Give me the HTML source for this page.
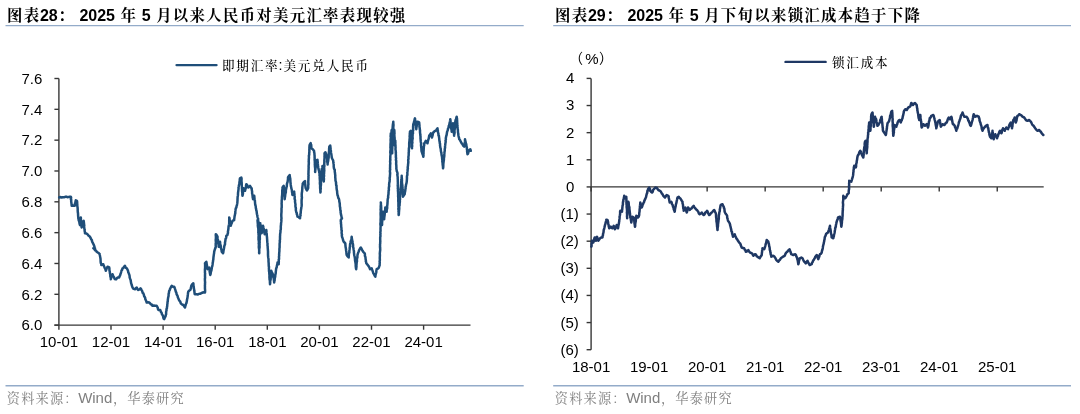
<!DOCTYPE html>
<html lang="zh-CN"><head><meta charset="utf-8"><title>图表28-29</title>
<style>
html,body{margin:0;padding:0;background:#fff;}
body{width:1080px;height:414px;position:relative;overflow:hidden;font-family:"Liberation Sans","Noto Serif CJK SC",sans-serif;}
.t{position:absolute;white-space:nowrap;line-height:1;}
.title{font-weight:bold;font-size:16px;color:#000;font-family:"Liberation Sans","Noto Serif CJK SC",serif;}
.title .c{font-size:15.4px;letter-spacing:1.3px;position:relative;left:0.6px;top:-0.2px;}
.title{word-spacing:0.55px;}
.src .c{font-size:13.2px;letter-spacing:1.2px;position:relative;left:0.6px;top:-0.3px;}
.src{font-size:15px;color:#7f7f7f;font-family:"Liberation Sans","Noto Serif CJK SC",serif;}
.lg{font-size:14.4px;color:#000;font-family:"Liberation Sans","Noto Serif CJK SC",serif;}
.lg .c{font-weight:500;font-size:12.6px;letter-spacing:1.8px;position:relative;left:0.9px;top:-0.4px;}
.unit{font-size:14px;color:#000;font-family:"Liberation Sans","Noto Sans CJK SC",sans-serif;}
</style></head><body>
<svg width="1080" height="414" viewBox="0 0 1080 414" style="position:absolute;left:0;top:0">
<g stroke="#93abc9" stroke-width="1.4" fill="none">
<path d="M5.5,25.6H523.7"/><path d="M553.2,25.6H1071"/><path d="M5.5,385.7H523.7"/><path d="M553.2,385.7H1071"/>
</g>
<g stroke="#363636" stroke-width="1.4" fill="none">
<path d="M58.9,78.5V325.14"/>
<path d="M54.4,325.14H470.5"/>
<path d="M54.4,78.50H58.9"/>
<path d="M54.4,109.33H58.9"/>
<path d="M54.4,140.16H58.9"/>
<path d="M54.4,170.99H58.9"/>
<path d="M54.4,201.82H58.9"/>
<path d="M54.4,232.65H58.9"/>
<path d="M54.4,263.48H58.9"/>
<path d="M54.4,294.31H58.9"/>
<path d="M54.4,325.14H58.9"/>
<path d="M58.90,325.14v4.6"/>
<path d="M111.00,325.14v4.6"/>
<path d="M163.10,325.14v4.6"/>
<path d="M215.20,325.14v4.6"/>
<path d="M267.30,325.14v4.6"/>
<path d="M319.40,325.14v4.6"/>
<path d="M371.50,325.14v4.6"/>
<path d="M423.60,325.14v4.6"/>
</g>
<g stroke="#363636" stroke-width="1.4" fill="none">
<path d="M591.1,78.4V349.70000000000005"/>
<path d="M591.1,186.92000000000002H1043.7"/>
<path d="M586.6,78.40H591.1"/>
<path d="M586.6,105.53H591.1"/>
<path d="M586.6,132.66H591.1"/>
<path d="M586.6,159.79H591.1"/>
<path d="M586.6,186.92H591.1"/>
<path d="M586.6,214.05H591.1"/>
<path d="M586.6,241.18H591.1"/>
<path d="M586.6,268.31H591.1"/>
<path d="M586.6,295.44H591.1"/>
<path d="M586.6,322.57H591.1"/>
<path d="M586.6,349.70H591.1"/>
<path d="M591.10,186.92000000000002v4.6"/>
<path d="M649.12,186.92000000000002v4.6"/>
<path d="M707.14,186.92000000000002v4.6"/>
<path d="M765.16,186.92000000000002v4.6"/>
<path d="M823.18,186.92000000000002v4.6"/>
<path d="M881.20,186.92000000000002v4.6"/>
<path d="M939.22,186.92000000000002v4.6"/>
<path d="M997.24,186.92000000000002v4.6"/>
</g>
<g font-family="'Liberation Sans', sans-serif" font-size="15" fill="#000">
<text transform="translate(42.3,83.8) scale(1,1.02)" text-anchor="end">7.6</text>
<text transform="translate(42.3,114.6) scale(1,1.02)" text-anchor="end">7.4</text>
<text transform="translate(42.3,145.4) scale(1,1.02)" text-anchor="end">7.2</text>
<text transform="translate(42.3,176.2) scale(1,1.02)" text-anchor="end">7.0</text>
<text transform="translate(42.3,207.1) scale(1,1.02)" text-anchor="end">6.8</text>
<text transform="translate(42.3,237.9) scale(1,1.02)" text-anchor="end">6.6</text>
<text transform="translate(42.3,268.7) scale(1,1.02)" text-anchor="end">6.4</text>
<text transform="translate(42.3,299.6) scale(1,1.02)" text-anchor="end">6.2</text>
<text transform="translate(42.3,330.4) scale(1,1.02)" text-anchor="end">6.0</text>
<text transform="translate(58.9,347.2) scale(1,1.02)" text-anchor="middle">10-01</text>
<text transform="translate(111.0,347.2) scale(1,1.02)" text-anchor="middle">12-01</text>
<text transform="translate(163.1,347.2) scale(1,1.02)" text-anchor="middle">14-01</text>
<text transform="translate(215.2,347.2) scale(1,1.02)" text-anchor="middle">16-01</text>
<text transform="translate(267.3,347.2) scale(1,1.02)" text-anchor="middle">18-01</text>
<text transform="translate(319.4,347.2) scale(1,1.02)" text-anchor="middle">20-01</text>
<text transform="translate(371.5,347.2) scale(1,1.02)" text-anchor="middle">22-01</text>
<text transform="translate(423.6,347.2) scale(1,1.02)" text-anchor="middle">24-01</text>
<text transform="translate(574.3,83.3) scale(1,1.02)" text-anchor="end">4</text>
<text transform="translate(574.3,110.4) scale(1,1.02)" text-anchor="end">3</text>
<text transform="translate(574.3,137.6) scale(1,1.02)" text-anchor="end">2</text>
<text transform="translate(574.3,164.7) scale(1,1.02)" text-anchor="end">1</text>
<text transform="translate(574.3,191.8) scale(1,1.02)" text-anchor="end">0</text>
<text transform="translate(578.8,219.0) scale(1,1.02)" text-anchor="end">(1)</text>
<text transform="translate(578.8,246.1) scale(1,1.02)" text-anchor="end">(2)</text>
<text transform="translate(578.8,273.2) scale(1,1.02)" text-anchor="end">(3)</text>
<text transform="translate(578.8,300.3) scale(1,1.02)" text-anchor="end">(4)</text>
<text transform="translate(578.8,327.5) scale(1,1.02)" text-anchor="end">(5)</text>
<text transform="translate(578.8,354.6) scale(1,1.02)" text-anchor="end">(6)</text>
<text transform="translate(591.1,371.5) scale(1,1.02)" text-anchor="middle">18-01</text>
<text transform="translate(649.1,371.5) scale(1,1.02)" text-anchor="middle">19-01</text>
<text transform="translate(707.1,371.5) scale(1,1.02)" text-anchor="middle">20-01</text>
<text transform="translate(765.2,371.5) scale(1,1.02)" text-anchor="middle">21-01</text>
<text transform="translate(823.2,371.5) scale(1,1.02)" text-anchor="middle">22-01</text>
<text transform="translate(881.2,371.5) scale(1,1.02)" text-anchor="middle">23-01</text>
<text transform="translate(939.2,371.5) scale(1,1.02)" text-anchor="middle">24-01</text>
<text transform="translate(997.2,371.5) scale(1,1.02)" text-anchor="middle">25-01</text>
</g>
<path d="M59.2,197.5 L60.4,197.0 L61.4,197.6 L62.7,197.2 L63.9,197.3 L65.0,197.0 L66.0,196.5 L67.3,197.2 L68.3,197.1 L69.7,196.7 L70.8,196.7 L71.1,197.5 L70.9,199.4 L71.2,199.6 L71.2,201.7 L71.3,202.1 L71.4,203.0 L71.6,204.6 L71.7,205.8 L73.1,205.5 L74.7,205.8 L74.9,204.4 L75.0,203.4 L75.4,202.9 L75.5,201.6 L75.8,200.3 L77.0,200.8 L77.2,202.5 L77.1,202.7 L77.3,204.6 L77.3,206.0 L77.5,207.0 L77.6,207.6 L77.7,209.4 L77.7,210.2 L77.7,210.8 L77.9,212.8 L78.0,213.3 L78.1,215.1 L78.1,215.9 L78.3,217.2 L78.3,218.3 L78.6,219.5 L78.7,220.5 L79.2,221.2 L79.5,223.3 L79.6,223.8 L80.0,225.0 L80.3,223.8 L80.3,222.8 L80.3,221.6 L80.7,220.0 L80.7,218.8 L80.8,217.5 L80.9,218.4 L80.9,220.2 L81.2,221.1 L81.3,222.4 L81.3,223.4 L81.4,224.2 L81.6,224.8 L81.5,226.5 L81.7,227.5 L82.0,226.4 L82.3,225.1 L82.7,224.2 L83.0,223.2 L83.3,221.4 L83.7,220.8 L83.8,221.6 L84.0,223.5 L84.1,224.6 L84.3,225.1 L84.1,226.7 L84.2,227.1 L84.4,229.1 L84.7,229.5 L84.6,230.9 L84.9,231.8 L85.0,233.3 L86.2,233.4 L87.5,234.2 L88.3,235.4 L89.2,236.1 L90.0,236.8 L90.8,238.3 L91.2,239.4 L91.9,240.1 L92.1,241.7 L92.8,242.9 L93.0,243.4 L93.7,244.6 L94.1,245.7 L94.6,247.4 L95.0,248.3 L93.3,248.3 L94.3,248.9 L95.0,250.3 L95.9,250.5 L96.7,251.7 L97.7,252.4 L98.7,253.1 L99.7,254.2 L99.8,254.9 L100.2,257.1 L100.3,257.6 L100.5,258.8 L100.6,260.5 L100.6,261.1 L100.8,263.0 L101.3,264.1 L101.3,265.0 L103.3,264.2 L103.6,265.4 L104.3,266.8 L104.6,267.7 L105.0,268.5 L105.5,269.4 L105.8,270.8 L106.2,269.7 L106.7,268.3 L107.1,267.5 L107.5,266.7 L109.2,267.5 L109.4,268.5 L109.4,270.3 L109.6,270.7 L109.9,272.7 L109.9,273.2 L110.3,274.7 L110.3,276.1 L110.6,277.3 L110.8,278.0 L110.8,279.2 L111.3,277.6 L111.6,276.2 L112.0,275.9 L112.5,274.2 L113.0,275.5 L113.5,276.5 L113.9,277.0 L114.5,278.6 L115.0,279.2 L116.2,279.3 L117.1,277.9 L118.0,277.5 L119.2,277.5 L119.7,275.9 L120.1,275.5 L120.5,273.9 L120.8,273.2 L121.2,271.8 L121.6,270.2 L122.1,269.9 L122.5,268.3 L123.3,268.0 L124.3,266.4 L125.0,265.8 L125.5,267.2 L126.1,268.0 L126.9,268.4 L127.3,269.3 L128.0,270.8 L128.3,272.4 L128.5,272.5 L128.9,273.8 L129.3,274.7 L129.6,276.1 L129.7,277.7 L130.0,278.3 L130.3,279.2 L130.7,280.2 L130.8,281.3 L131.2,283.4 L131.5,284.2 L131.7,285.0 L132.3,286.8 L132.5,287.5 L133.6,288.9 L135.0,289.2 L135.9,288.0 L136.7,287.5 L137.5,289.3 L138.3,290.0 L139.5,289.4 L140.5,288.3 L141.1,289.1 L141.6,290.1 L142.1,290.9 L142.7,292.9 L143.3,293.3 L143.8,294.6 L144.1,296.1 L144.5,296.6 L145.1,297.7 L145.4,299.5 L145.8,300.0 L146.3,301.4 L146.7,302.5 L147.8,302.2 L149.2,302.5 L149.9,303.1 L150.7,304.2 L151.7,304.5 L152.5,305.8 L153.8,305.6 L155.0,305.8 L156.7,305.8 L157.3,306.9 L157.7,307.5 L158.0,309.3 L158.7,310.0 L160.3,310.0 L160.8,311.7 L161.6,312.8 L161.9,314.1 L162.5,315.0 L162.9,315.6 L163.3,317.5 L163.6,318.6 L164.2,319.2 L164.4,318.6 L165.1,316.9 L165.5,316.4 L165.8,315.0 L166.1,314.2 L166.1,312.9 L166.2,311.4 L166.5,310.6 L166.5,308.9 L166.9,308.5 L167.0,306.9 L167.2,306.1 L167.3,304.4 L167.5,303.3 L167.5,301.9 L167.8,301.2 L167.8,300.0 L168.0,298.6 L168.2,297.2 L168.4,296.9 L168.6,295.3 L168.6,293.9 L168.9,293.1 L169.0,292.1 L169.2,290.8 L169.7,290.0 L170.2,288.5 L170.6,287.8 L171.2,286.7 L171.7,285.8 L173.0,286.7 L174.2,286.7 L174.6,287.7 L174.9,288.7 L175.5,290.4 L175.8,291.7 L176.3,292.4 L176.6,294.3 L177.2,295.2 L177.6,296.0 L177.9,297.5 L178.3,298.3 L178.9,299.7 L179.4,300.8 L179.8,301.0 L180.4,302.0 L180.8,303.3 L181.9,304.4 L183.3,305.0 L184.2,306.4 L185.0,307.5 L185.3,306.2 L185.7,304.8 L186.1,303.5 L186.4,303.2 L186.7,301.7 L187.0,300.3 L186.9,300.0 L187.3,298.6 L187.5,297.4 L187.7,296.1 L187.7,295.5 L187.9,294.2 L188.1,292.4 L188.3,291.7 L189.5,290.4 L190.3,290.0 L190.6,289.3 L191.0,287.6 L191.3,285.8 L191.7,285.0 L192.6,283.9 L193.3,283.3 L193.4,284.0 L193.5,285.7 L193.8,287.1 L193.8,288.5 L194.1,289.1 L194.2,290.3 L194.4,291.5 L194.6,293.3 L194.7,294.2 L196.7,294.2 L197.9,294.5 L199.2,293.7 L200.3,293.8 L201.4,293.1 L202.7,292.5 L203.9,292.3 L205.0,292.5 L205.1,291.4 L205.1,290.5 L205.0,288.7 L204.9,288.1 L205.0,286.9 L204.9,285.8 L205.0,284.6 L205.0,283.3 L205.1,282.7 L205.0,281.3 L204.9,280.0 L204.9,278.5 L205.1,278.0 L205.0,277.2 L205.0,276.2 L205.0,274.9 L205.1,273.7 L204.9,272.1 L205.0,271.3 L204.9,269.9 L205.0,268.8 L205.1,267.7 L205.1,266.8 L205.1,266.0 L205.1,264.4 L205.0,263.3 L206.3,261.7 L206.6,263.1 L206.7,264.3 L207.0,265.6 L207.2,267.2 L207.4,268.3 L207.5,269.2 L208.4,268.7 L209.2,267.5 L209.3,268.6 L209.7,270.2 L209.6,271.3 L209.9,272.9 L210.0,273.7 L210.3,275.0 L210.6,273.9 L210.8,272.7 L210.9,271.8 L211.4,270.6 L211.5,269.7 L211.8,268.5 L211.9,266.9 L212.2,266.5 L212.5,265.0 L212.7,263.4 L212.7,262.8 L213.0,261.7 L213.1,260.2 L213.3,259.7 L213.4,258.1 L213.5,256.9 L213.7,255.8 L213.7,255.4 L214.0,253.6 L214.1,253.0 L214.2,251.7 L214.7,249.9 L214.9,249.3 L215.5,247.8 L215.8,246.7 L215.7,245.8 L215.7,244.5 L215.8,243.8 L215.9,242.6 L215.8,241.1 L215.7,239.9 L215.9,238.3 L215.9,237.4 L215.9,236.2 L215.8,235.5 L215.8,234.2 L216.6,235.0 L217.5,236.7 L217.5,237.8 L217.6,238.5 L218.0,240.1 L217.9,240.8 L218.2,242.4 L218.3,243.8 L218.5,244.3 L218.6,245.1 L218.7,246.7 L219.0,245.0 L219.3,244.2 L219.6,242.6 L220.0,241.7 L220.2,243.1 L220.3,244.0 L220.5,245.2 L220.9,246.2 L220.8,247.8 L221.2,248.7 L221.3,249.2 L221.6,250.6 L221.7,251.7 L223.0,253.3 L223.4,252.0 L223.4,251.2 L223.6,250.2 L224.0,248.2 L224.2,246.9 L224.4,245.8 L224.7,245.0 L225.0,244.2 L225.0,242.2 L225.2,241.9 L225.4,240.2 L225.6,238.8 L226.0,238.3 L226.2,237.2 L226.3,235.8 L227.5,235.0 L227.6,234.0 L228.0,232.8 L227.9,231.7 L228.3,229.8 L228.3,229.3 L228.5,228.1 L228.5,226.9 L228.8,225.5 L229.1,224.2 L229.2,223.3 L229.2,222.1 L229.2,221.2 L229.2,220.1 L229.3,218.4 L229.2,217.5 L229.5,218.3 L229.7,220.3 L229.8,220.6 L230.1,222.6 L230.5,223.3 L230.6,224.1 L230.8,225.8 L231.1,224.5 L231.7,223.2 L231.9,222.5 L232.5,220.8 L234.2,220.0 L234.2,218.9 L234.4,218.0 L234.6,216.0 L234.8,215.6 L235.1,213.8 L235.3,213.3 L235.3,211.6 L235.5,210.4 L235.6,209.3 L235.8,208.3 L236.4,207.5 L236.5,206.2 L237.0,205.0 L237.1,204.0 L237.3,203.2 L237.4,201.9 L237.5,200.5 L237.5,199.6 L237.6,197.7 L237.6,197.0 L237.9,195.7 L238.0,194.2 L238.0,193.7 L238.1,192.2 L238.3,191.1 L238.4,190.1 L238.6,188.6 L238.5,187.6 L238.7,186.7 L239.0,185.0 L239.2,184.3 L239.4,183.6 L239.6,182.3 L239.7,181.2 L239.8,179.1 L240.0,178.3 L241.3,177.5 L241.6,178.7 L241.5,180.1 L241.5,181.2 L241.7,182.6 L241.7,183.1 L241.8,184.9 L241.7,185.2 L241.9,186.9 L241.9,188.3 L242.1,188.9 L242.0,189.6 L242.1,191.3 L242.2,192.0 L242.4,193.7 L242.3,194.2 L242.5,195.8 L242.7,195.0 L243.0,193.0 L243.0,191.6 L243.3,191.2 L243.6,189.3 L243.7,188.3 L244.4,189.7 L245.0,190.8 L245.2,190.2 L245.5,188.8 L245.8,188.0 L246.0,186.6 L246.0,185.8 L246.3,184.2 L247.1,185.0 L247.7,186.7 L248.3,187.5 L249.1,186.7 L250.0,185.8 L250.9,187.5 L251.7,188.3 L251.7,189.6 L252.0,191.1 L252.1,191.6 L252.1,193.4 L252.3,193.9 L252.6,196.0 L252.7,197.3 L252.9,198.0 L253.0,199.2 L253.4,198.1 L253.9,197.3 L254.2,195.8 L254.4,196.9 L254.4,197.9 L254.6,199.3 L254.9,200.5 L254.9,201.2 L255.1,203.3 L255.1,203.9 L255.3,205.0 L255.7,206.1 L255.8,207.8 L256.1,208.9 L256.2,210.0 L256.5,210.8 L256.7,211.9 L256.8,213.1 L257.0,214.3 L257.3,215.3 L257.5,216.7 L257.6,217.3 L258.1,218.7 L258.1,220.3 L258.4,221.9 L258.7,222.5 L258.2,221.3 L257.5,220.0 L257.6,221.3 L257.7,222.5 L257.8,223.6 L257.9,225.0 L257.8,225.1 L258.0,227.2 L258.1,227.3 L258.4,228.9 L258.3,230.0 L258.4,231.0 L258.3,232.6 L258.6,233.5 L258.5,234.5 L258.7,235.4 L258.5,237.2 L258.6,237.8 L258.5,239.1 L258.6,239.7 L258.8,241.1 L258.9,242.6 L258.7,243.5 L258.9,244.3 L258.9,245.3 L258.8,247.1 L258.9,248.2 L259.1,248.8 L259.1,249.7 L259.2,251.0 L259.1,252.8 L259.2,253.3 L259.3,252.2 L259.2,251.2 L259.3,250.3 L259.2,248.9 L259.4,248.3 L259.6,247.1 L259.5,245.3 L259.6,244.4 L259.5,243.7 L259.7,242.0 L259.5,241.0 L259.7,239.7 L259.9,239.0 L259.8,237.8 L259.8,236.3 L259.9,235.3 L259.8,234.2 L259.9,233.2 L260.0,232.0 L260.1,230.8 L260.1,230.2 L260.1,228.4 L260.2,228.0 L260.3,227.0 L260.2,225.3 L260.2,224.3 L260.3,223.3 L260.4,224.0 L260.6,225.1 L260.8,226.9 L260.8,228.0 L261.1,228.6 L261.2,230.4 L261.2,230.6 L261.6,232.0 L261.7,233.3 L261.8,231.6 L262.3,231.0 L262.4,229.4 L262.4,228.4 L262.7,226.9 L263.0,225.8 L263.3,226.7 L263.3,228.4 L263.8,228.9 L263.9,230.2 L264.1,231.5 L264.3,232.5 L264.7,234.2 L265.2,233.0 L265.4,232.2 L265.8,231.2 L266.3,230.0 L266.4,231.1 L266.5,232.7 L266.7,233.7 L266.8,234.8 L266.8,236.0 L267.0,236.9 L267.0,237.8 L267.1,238.9 L267.2,240.4 L267.2,241.2 L267.3,242.2 L267.5,243.3 L267.5,244.2 L267.5,245.7 L267.7,246.5 L267.7,247.9 L267.8,248.6 L267.9,250.3 L268.0,251.4 L268.0,252.7 L268.0,253.1 L268.0,254.9 L268.1,256.3 L268.2,257.4 L268.4,258.5 L268.5,259.1 L268.5,260.1 L268.5,261.4 L268.6,262.3 L268.7,263.6 L268.7,265.0 L268.8,266.5 L269.0,266.7 L268.9,268.8 L269.0,269.4 L269.0,271.1 L269.2,272.1 L269.3,272.8 L269.3,273.9 L269.4,274.7 L269.5,275.8 L269.4,276.9 L269.5,278.1 L269.6,279.7 L269.9,280.5 L269.9,282.4 L270.0,283.4 L270.0,284.2 L270.2,282.8 L270.2,281.7 L270.2,280.7 L270.6,280.0 L270.7,278.4 L270.7,277.3 L270.9,276.9 L270.9,274.8 L270.9,274.0 L271.1,273.4 L271.3,272.2 L271.3,270.8 L271.6,271.9 L272.3,273.1 L272.6,273.6 L273.0,275.0 L273.1,276.2 L273.5,277.7 L273.7,278.2 L273.9,279.9 L274.0,280.9 L274.2,282.5 L274.3,280.9 L274.6,280.6 L274.7,279.2 L274.9,277.7 L275.2,276.8 L275.3,274.9 L275.5,274.1 L275.7,273.3 L275.8,271.7 L276.0,270.1 L276.1,268.9 L276.4,267.8 L276.7,267.4 L276.8,266.3 L277.2,264.4 L277.4,264.0 L277.5,262.5 L278.7,264.2 L278.7,262.5 L278.8,262.1 L278.8,261.3 L278.7,259.6 L279.1,259.0 L279.0,258.0 L279.0,256.3 L279.2,255.7 L279.1,254.8 L279.2,253.3 L279.3,252.0 L279.4,251.4 L279.4,250.1 L279.4,248.9 L279.6,247.4 L279.6,246.2 L279.6,245.3 L279.6,244.5 L279.6,243.8 L279.9,241.6 L279.7,240.9 L279.9,239.9 L280.0,239.4 L280.0,237.6 L280.0,236.7 L280.1,235.5 L280.1,234.3 L280.3,233.1 L280.5,231.7 L280.4,230.7 L280.7,229.8 L280.8,228.9 L280.8,227.7 L280.8,225.9 L281.0,225.0 L281.0,223.9 L281.2,222.4 L281.3,221.7 L281.4,220.2 L281.3,219.5 L281.5,218.3 L281.4,217.3 L281.3,216.0 L281.3,215.1 L281.3,214.2 L281.4,213.1 L281.5,211.9 L281.5,210.2 L281.5,209.0 L281.5,208.2 L281.7,207.4 L281.7,206.0 L281.7,204.7 L281.6,203.7 L281.7,202.3 L281.7,201.7 L281.7,200.2 L281.9,199.1 L281.9,198.2 L281.9,197.2 L282.1,195.3 L282.2,194.4 L282.2,193.9 L282.3,191.8 L282.2,191.2 L282.4,189.5 L282.6,188.3 L282.5,187.5 L283.7,185.8 L283.8,187.2 L284.0,187.9 L284.0,188.8 L283.9,190.0 L284.0,191.0 L284.1,192.8 L284.3,193.6 L284.4,194.5 L284.5,196.0 L284.6,196.9 L284.7,198.6 L284.7,199.2 L284.8,197.9 L285.1,196.3 L285.2,195.1 L285.3,194.3 L285.7,192.8 L285.9,192.0 L285.8,191.2 L286.0,189.7 L286.3,188.3 L286.5,187.1 L286.8,186.5 L286.9,184.5 L287.0,183.7 L287.4,182.3 L287.6,181.9 L287.9,179.7 L288.0,179.0 L288.0,177.5 L288.3,176.7 L289.7,175.0 L289.7,176.6 L289.9,176.7 L290.2,178.9 L290.3,179.3 L290.4,180.9 L290.4,181.8 L290.6,183.2 L290.7,184.4 L290.8,185.0 L291.0,186.6 L291.2,187.1 L291.3,188.1 L291.7,189.5 L291.9,190.3 L292.0,192.0 L292.3,192.7 L292.3,194.2 L292.5,195.0 L293.1,193.5 L293.7,192.2 L294.2,191.7 L294.2,192.6 L294.4,194.0 L294.5,195.2 L294.7,196.4 L294.7,197.3 L294.6,198.9 L294.8,199.3 L295.1,200.5 L295.0,201.6 L295.2,202.9 L295.5,204.6 L295.4,205.8 L295.4,206.1 L295.7,207.9 L295.9,208.6 L295.8,210.0 L296.1,211.2 L296.3,212.4 L296.8,213.0 L296.8,214.2 L297.3,215.3 L297.5,216.7 L298.7,217.2 L300.0,218.3 L300.1,217.0 L300.2,216.4 L300.6,215.4 L300.4,214.2 L300.8,212.6 L300.7,212.1 L300.9,210.5 L301.0,209.7 L301.3,208.1 L301.3,207.6 L301.6,206.2 L301.7,205.0 L301.7,204.3 L301.6,203.3 L301.6,201.2 L301.6,200.7 L301.7,199.2 L301.9,197.8 L301.9,197.0 L301.7,196.4 L301.8,195.0 L301.7,194.3 L301.8,193.3 L302.1,191.3 L302.2,189.9 L302.3,188.9 L302.3,187.7 L302.4,186.8 L302.5,185.9 L302.7,184.7 L302.7,183.7 L303.9,182.0 L305.0,181.1 L305.0,181.9 L305.1,183.6 L305.3,185.0 L305.3,185.6 L305.4,186.2 L305.6,187.9 L306.3,189.3 L306.9,190.4 L307.5,189.6 L308.2,187.9 L308.2,187.0 L308.2,185.1 L308.4,184.7 L308.4,183.8 L308.3,182.3 L308.3,181.1 L308.4,180.1 L308.4,179.2 L308.5,177.6 L308.4,176.7 L308.6,175.4 L308.4,174.3 L308.5,172.9 L308.5,171.4 L308.5,171.2 L308.6,169.6 L308.6,168.5 L308.7,167.8 L308.6,166.3 L308.7,164.9 L308.8,163.7 L308.8,162.1 L308.7,161.7 L308.8,160.3 L308.8,158.6 L309.0,158.1 L308.9,157.2 L308.9,155.2 L309.2,155.0 L309.2,152.9 L309.3,152.6 L309.4,150.7 L309.3,150.0 L309.4,148.9 L309.4,147.5 L309.5,146.0 L309.6,145.1 L310.1,144.1 L310.7,143.0 L310.8,144.5 L311.2,144.9 L311.3,146.4 L311.3,147.5 L311.6,148.5 L312.8,149.3 L314.1,151.0 L314.1,152.2 L314.4,153.2 L314.5,155.1 L314.6,155.5 L314.6,157.1 L314.7,158.6 L314.6,159.9 L314.8,160.7 L314.8,162.4 L314.9,162.9 L314.8,164.3 L314.9,165.4 L314.9,165.9 L315.0,167.1 L315.2,168.7 L315.2,170.1 L315.1,171.5 L315.2,172.1 L315.2,170.8 L315.4,169.3 L315.4,168.6 L315.7,167.8 L315.6,165.7 L315.9,164.5 L315.8,164.2 L316.0,162.1 L316.0,161.3 L316.2,160.3 L317.5,159.9 L317.5,160.5 L317.7,161.9 L317.8,163.4 L317.9,164.2 L318.0,166.0 L318.2,166.8 L318.3,167.9 L318.5,168.9 L318.7,169.7 L319.2,171.6 L319.2,172.3 L319.6,173.8 L319.5,175.3 L319.8,176.3 L319.8,176.7 L319.7,177.8 L319.8,179.1 L319.9,180.5 L320.0,181.8 L319.9,182.2 L319.9,184.0 L320.2,185.3 L320.1,185.6 L320.1,186.7 L320.1,187.8 L320.2,188.9 L320.3,190.1 L320.4,191.8 L320.4,192.5 L320.6,191.5 L320.5,190.2 L320.7,188.9 L320.8,188.5 L320.6,187.1 L320.9,185.4 L320.8,185.2 L321.0,184.1 L320.9,182.8 L321.0,181.4 L321.1,180.2 L321.0,178.7 L321.2,177.8 L321.3,177.4 L321.3,175.5 L321.3,175.0 L321.5,173.3 L321.6,172.3 L321.7,171.1 L321.6,170.2 L321.7,169.3 L322.1,168.2 L322.3,167.5 L322.5,165.9 L322.5,167.2 L322.7,167.8 L322.8,169.8 L322.8,170.0 L323.0,172.0 L323.2,173.0 L323.2,174.1 L323.2,175.1 L323.5,175.6 L323.4,176.6 L323.7,178.4 L323.5,179.0 L323.7,180.9 L323.8,181.6 L323.8,180.4 L324.0,178.9 L323.8,178.5 L323.8,176.8 L324.1,176.0 L323.9,174.6 L324.0,173.7 L324.1,173.2 L324.1,172.1 L324.3,170.5 L324.2,169.6 L324.2,168.4 L324.1,167.2 L324.4,165.9 L324.2,164.7 L324.3,163.6 L324.3,162.4 L324.5,161.9 L324.3,161.1 L324.4,159.8 L324.5,158.3 L324.6,157.8 L324.5,156.8 L324.6,155.0 L324.5,153.6 L324.7,153.0 L325.5,152.3 L325.8,153.3 L326.0,154.2 L326.5,155.6 L326.8,156.9 L327.1,158.2 L327.2,159.5 L327.2,160.8 L327.2,161.9 L327.5,162.8 L327.6,164.5 L327.6,163.7 L327.9,161.8 L328.2,160.8 L328.3,159.5 L328.5,158.6 L328.7,157.4 L328.7,156.0 L328.7,154.6 L328.7,154.3 L328.9,152.5 L329.0,151.6 L329.1,150.5 L329.1,149.0 L329.2,147.9 L329.3,146.8 L330.2,145.5 L330.4,146.8 L330.5,147.8 L330.7,149.5 L330.8,150.0 L330.9,151.2 L331.0,152.7 L331.2,153.5 L331.5,155.3 L331.7,157.0 L331.8,157.8 L332.4,159.1 L333.1,160.3 L333.2,161.0 L333.4,162.8 L333.5,163.5 L333.7,164.6 L333.7,166.7 L333.9,167.7 L334.0,168.7 L334.8,170.0 L334.7,170.9 L334.9,172.6 L335.0,173.1 L335.2,175.0 L335.3,175.8 L335.2,176.9 L335.3,177.7 L335.4,178.6 L335.5,180.7 L335.8,181.6 L336.1,183.0 L336.0,183.2 L336.2,185.3 L336.5,185.5 L336.5,187.0 L336.6,188.3 L336.7,189.3 L336.9,190.4 L337.1,191.2 L337.2,193.2 L337.3,193.8 L337.6,195.4 L337.9,195.9 L338.3,198.0 L338.8,198.6 L339.2,200.0 L339.3,201.4 L339.5,202.2 L339.7,203.3 L339.8,204.0 L339.8,205.1 L339.9,206.6 L340.2,207.7 L340.2,208.4 L340.4,210.5 L340.7,211.0 L340.6,212.5 L340.8,213.3 L341.0,214.7 L341.4,216.1 L341.6,217.4 L342.0,218.3 L340.8,220.0 L340.8,221.6 L341.0,222.6 L340.9,223.8 L341.1,224.0 L341.2,226.0 L341.2,226.7 L341.4,227.8 L341.5,229.3 L341.4,230.0 L341.8,230.7 L341.6,232.3 L341.7,233.7 L342.0,234.4 L341.8,235.1 L342.0,236.7 L342.3,237.4 L342.8,239.0 L343.1,240.2 L343.7,241.7 L344.5,242.5 L345.3,243.3 L345.4,244.8 L345.5,245.8 L345.6,247.1 L345.8,248.0 L346.0,249.1 L346.1,250.4 L346.4,251.9 L346.4,252.7 L346.5,254.1 L346.7,255.0 L347.7,256.4 L348.7,257.5 L348.8,256.3 L348.8,255.3 L348.9,253.8 L349.1,253.1 L349.4,252.1 L349.3,251.0 L349.5,250.0 L349.7,248.3 L349.7,247.4 L350.0,246.5 L350.0,245.0 L350.2,243.6 L350.5,242.5 L350.6,241.6 L351.1,240.1 L351.2,239.6 L351.5,238.2 L351.7,236.7 L351.7,237.6 L352.0,239.2 L352.2,240.5 L352.5,241.4 L352.6,242.2 L352.8,243.5 L353.1,245.3 L353.0,246.6 L353.3,247.5 L353.5,248.6 L353.7,250.0 L354.0,251.5 L353.9,251.8 L354.1,253.9 L354.2,255.0 L354.4,255.8 L354.6,256.4 L354.9,258.3 L355.0,259.2 L355.0,260.1 L355.2,261.2 L355.4,262.2 L355.6,263.6 L355.7,264.3 L355.7,265.9 L355.8,266.8 L356.0,268.5 L356.2,269.2 L356.3,267.5 L356.5,266.8 L356.4,265.9 L356.5,264.9 L356.6,263.5 L356.7,262.4 L357.0,261.2 L356.9,260.0 L357.0,258.4 L357.4,257.6 L357.4,256.2 L357.5,255.0 L357.8,253.9 L358.3,252.4 L358.7,251.5 L359.2,250.0 L360.0,248.6 L360.8,247.5 L361.3,248.3 L361.8,249.4 L362.5,250.8 L363.2,251.8 L364.0,252.6 L364.7,253.3 L364.9,254.0 L364.9,255.9 L365.3,256.6 L365.5,257.7 L365.6,259.1 L365.9,260.4 L365.8,261.2 L366.2,262.2 L366.3,263.3 L367.4,264.6 L368.3,265.8 L369.0,266.8 L369.5,267.8 L370.0,269.2 L371.7,268.3 L372.0,269.5 L372.4,270.3 L372.9,271.8 L373.3,273.3 L373.9,273.9 L374.8,275.9 L375.3,276.7 L375.5,275.3 L375.7,274.3 L376.1,273.0 L376.3,272.2 L376.4,270.5 L376.7,269.2 L378.3,268.3 L378.8,267.7 L379.3,266.1 L379.7,265.0 L379.6,263.8 L379.8,262.8 L379.6,261.5 L379.9,260.0 L379.8,258.9 L379.8,257.7 L379.8,257.5 L379.9,255.7 L379.9,254.9 L379.8,253.5 L379.9,252.6 L380.0,251.5 L380.2,250.0 L380.2,248.9 L380.1,248.0 L380.0,246.6 L380.1,246.0 L380.0,244.7 L380.2,243.5 L380.2,242.6 L380.3,241.1 L380.2,240.2 L380.2,239.1 L380.2,237.3 L380.3,236.7 L380.5,236.1 L380.3,234.8 L380.5,233.7 L380.3,232.3 L380.6,230.7 L380.5,230.6 L380.5,228.9 L380.5,228.3 L380.6,226.3 L380.6,225.7 L380.4,224.7 L380.4,223.4 L380.7,222.1 L380.6,221.4 L380.6,219.7 L380.6,219.1 L380.7,218.1 L380.7,216.8 L380.7,215.8 L380.6,214.8 L380.6,213.0 L380.7,211.9 L380.8,211.1 L380.6,209.8 L380.6,209.5 L380.8,207.8 L380.7,207.0 L380.8,205.4 L380.9,204.4 L380.9,203.3 L380.8,202.5 L380.9,203.1 L380.9,204.5 L381.1,205.8 L381.1,206.7 L381.2,207.6 L381.2,209.6 L381.2,210.8 L381.4,211.3 L381.4,213.2 L381.5,213.5 L381.6,214.7 L381.4,215.8 L381.6,216.9 L381.7,218.8 L381.8,218.9 L381.9,220.9 L381.8,221.1 L381.9,223.1 L382.1,224.4 L382.0,225.0 L382.1,224.2 L382.0,222.6 L382.2,222.0 L382.2,221.0 L382.5,219.8 L382.6,218.8 L382.6,217.2 L382.6,215.7 L382.7,215.1 L382.9,213.7 L383.0,212.9 L383.0,211.7 L383.2,212.8 L383.5,214.1 L383.7,215.6 L383.7,216.3 L384.0,217.7 L384.2,219.2 L384.2,218.2 L384.4,216.6 L384.6,215.4 L384.7,214.1 L384.8,213.0 L385.0,212.5 L384.8,211.4 L385.2,210.0 L385.2,209.0 L385.3,207.5 L385.7,209.2 L386.2,210.6 L386.7,211.7 L386.6,211.1 L386.8,209.5 L387.1,208.6 L387.2,207.2 L387.1,205.8 L387.3,205.3 L387.5,203.4 L387.4,203.2 L387.6,201.8 L387.6,200.1 L387.8,198.9 L388.0,198.1 L388.2,197.4 L388.1,196.5 L388.3,195.0 L388.5,194.0 L388.5,192.5 L388.6,192.2 L388.6,190.8 L388.9,190.0 L388.8,188.1 L389.0,186.7 L389.2,186.5 L389.1,184.6 L389.2,183.5 L389.3,182.5 L389.6,181.7 L389.6,180.9 L389.8,179.2 L389.6,178.0 L389.9,176.9 L389.9,176.3 L390.0,175.0 L390.1,173.6 L390.1,172.8 L389.9,171.6 L390.0,170.0 L390.2,169.4 L390.0,168.3 L390.1,167.6 L390.1,166.0 L390.1,164.6 L390.3,163.9 L390.2,162.4 L390.1,161.3 L390.4,159.8 L390.2,159.8 L390.3,157.6 L390.3,156.8 L390.3,156.3 L390.5,154.4 L390.5,153.7 L390.3,152.7 L390.3,151.9 L390.5,149.9 L390.7,149.5 L390.4,147.4 L390.5,146.3 L390.5,146.2 L390.5,144.6 L390.6,142.9 L390.7,142.1 L390.7,141.6 L390.6,140.1 L390.7,138.6 L390.9,137.7 L390.6,136.4 L390.7,135.1 L390.8,134.1 L390.8,133.3 L391.2,132.6 L391.5,131.2 L391.7,130.0 L391.6,131.5 L391.6,132.4 L391.7,133.2 L391.6,134.2 L391.9,135.2 L391.9,137.2 L391.9,137.3 L391.9,138.5 L391.8,140.0 L391.9,140.7 L392.0,141.7 L391.8,143.8 L392.1,144.8 L392.0,145.0 L391.9,146.6 L392.1,148.1 L392.2,149.2 L392.1,150.5 L392.0,151.5 L392.1,152.0 L392.2,153.3 L392.2,152.2 L392.2,151.5 L392.2,150.4 L392.2,149.4 L392.3,148.3 L392.3,146.5 L392.4,145.1 L392.4,144.6 L392.3,142.9 L392.2,142.3 L392.5,141.4 L392.5,140.1 L392.4,139.4 L392.6,137.8 L392.4,136.9 L392.6,135.7 L392.4,134.8 L392.6,133.0 L392.6,132.5 L392.6,131.1 L392.5,130.5 L392.5,128.7 L392.7,127.3 L392.7,126.7 L392.8,125.6 L392.9,124.4 L393.2,122.8 L393.3,121.7 L393.3,123.1 L393.4,124.2 L393.5,125.2 L393.4,126.2 L393.3,127.7 L393.3,127.8 L393.5,129.2 L393.5,130.7 L393.6,131.1 L393.6,132.5 L393.6,133.7 L393.4,135.2 L393.5,136.1 L393.5,137.8 L393.5,138.2 L393.6,138.9 L393.5,140.7 L393.5,142.0 L393.7,143.3 L393.6,144.4 L393.7,145.0 L393.8,144.2 L393.7,142.9 L393.8,141.6 L394.0,140.2 L394.0,138.8 L393.9,138.4 L394.1,136.8 L394.1,135.8 L394.0,134.6 L394.3,134.0 L394.2,132.1 L394.4,131.4 L394.3,130.0 L394.3,131.2 L394.4,132.1 L394.5,133.8 L394.3,134.1 L394.4,135.7 L394.5,137.1 L394.7,138.3 L394.5,138.6 L394.7,140.0 L395.3,140.8 L395.3,142.3 L395.4,142.6 L395.3,143.8 L395.5,145.3 L395.4,146.6 L395.6,146.9 L395.5,148.8 L395.5,149.7 L395.8,151.2 L395.7,152.3 L395.9,152.5 L395.8,154.0 L395.9,155.1 L395.9,156.5 L395.8,157.1 L396.1,157.9 L395.9,160.0 L396.2,160.7 L396.2,161.8 L396.2,162.4 L396.1,164.3 L396.3,164.7 L396.3,165.8 L396.4,167.7 L396.3,168.3 L396.6,169.9 L396.8,171.2 L397.2,172.0 L397.5,173.3 L397.5,174.2 L397.4,175.5 L397.5,175.9 L397.7,177.1 L397.7,178.5 L397.8,179.6 L397.8,181.3 L397.8,181.4 L397.9,183.3 L397.8,184.2 L397.7,184.8 L397.8,185.8 L397.9,187.7 L397.8,188.6 L398.1,190.1 L397.9,190.5 L398.0,191.4 L398.1,192.6 L398.1,193.8 L398.2,194.6 L398.1,196.4 L398.3,197.6 L398.3,198.9 L398.3,199.5 L398.2,200.9 L398.4,202.2 L398.4,203.1 L398.4,203.5 L398.4,205.0 L398.4,206.3 L398.6,207.5 L398.3,208.9 L398.6,209.9 L398.6,210.7 L398.5,211.5 L398.7,212.3 L398.6,214.2 L398.7,215.0 L398.9,214.0 L398.9,212.4 L399.0,211.9 L399.0,211.1 L399.2,209.6 L399.3,208.2 L399.2,207.1 L399.3,205.7 L399.6,205.5 L399.6,204.3 L399.7,202.8 L399.9,201.8 L399.8,200.4 L400.0,199.7 L400.0,198.3 L400.0,197.5 L400.1,196.2 L400.2,194.7 L400.2,193.3 L400.5,192.9 L400.6,191.1 L400.7,190.4 L400.5,188.8 L400.6,188.6 L400.9,186.6 L400.9,185.5 L400.9,185.2 L401.2,184.1 L401.2,183.1 L401.2,181.8 L401.4,180.4 L401.3,179.6 L401.5,178.4 L401.7,177.0 L401.7,175.8 L401.7,177.2 L401.9,178.5 L401.8,179.6 L402.0,179.9 L401.9,181.2 L402.0,183.2 L402.1,183.7 L402.4,185.6 L402.3,186.6 L402.5,187.0 L402.5,188.3 L402.6,190.0 L402.8,191.3 L402.8,191.9 L402.8,192.8 L402.8,194.5 L403.0,195.4 L403.0,196.7 L404.0,195.1 L404.7,194.2 L404.8,192.6 L405.0,192.0 L405.2,191.1 L405.4,189.2 L405.6,188.4 L405.6,186.9 L405.9,186.0 L406.0,184.7 L406.2,184.3 L406.6,182.6 L406.7,181.7 L406.8,181.1 L406.9,179.1 L407.0,177.9 L406.9,177.0 L407.0,176.0 L407.3,175.2 L407.4,174.1 L407.3,172.4 L407.4,172.0 L407.6,170.8 L407.6,169.1 L407.9,168.8 L407.7,167.3 L408.0,165.6 L408.0,165.0 L408.1,164.2 L408.3,162.5 L408.3,161.2 L408.2,160.8 L408.2,159.8 L408.5,158.8 L408.4,157.0 L408.5,156.4 L408.7,155.1 L408.7,154.4 L408.7,152.5 L408.9,151.2 L408.8,150.9 L408.9,149.4 L408.9,148.1 L409.2,147.3 L409.2,145.8 L409.2,145.3 L409.2,144.3 L409.2,142.9 L409.4,141.3 L409.5,140.9 L409.5,139.9 L409.7,138.2 L409.8,137.7 L409.6,136.3 L409.8,134.8 L409.8,133.4 L409.9,133.1 L410.0,131.7 L410.8,130.8 L410.8,132.2 L410.9,132.8 L411.0,134.1 L411.3,135.3 L411.2,136.7 L411.2,137.6 L411.3,139.3 L411.4,139.8 L411.7,141.5 L411.6,142.9 L411.8,143.3 L411.8,144.3 L411.8,146.5 L411.9,147.2 L412.0,148.3 L411.9,147.1 L412.2,146.2 L412.0,144.5 L412.2,143.4 L412.4,142.5 L412.2,141.4 L412.4,139.7 L412.6,138.8 L412.7,138.2 L412.5,137.0 L412.6,136.0 L412.6,134.2 L413.0,133.3 L412.9,132.4 L412.9,130.9 L413.2,130.4 L413.1,128.6 L413.1,127.6 L413.1,126.5 L413.2,125.6 L413.3,124.2 L413.7,123.2 L414.1,121.5 L414.3,121.2 L414.7,119.0 L415.0,118.3 L415.1,119.7 L415.2,121.0 L415.3,121.7 L415.7,123.3 L415.7,124.6 L415.8,125.3 L416.0,126.4 L416.0,127.6 L416.3,129.2 L416.4,127.8 L416.6,126.7 L416.8,125.3 L417.2,123.8 L417.4,122.4 L417.5,121.7 L419.2,122.5 L419.3,123.8 L419.4,124.8 L419.5,125.6 L419.4,126.5 L419.7,128.1 L419.9,129.8 L420.0,130.0 L420.0,131.5 L420.0,132.4 L420.2,133.8 L420.3,135.0 L420.5,136.5 L420.5,136.9 L420.5,138.7 L420.6,139.2 L420.7,141.1 L420.8,141.8 L421.0,143.0 L421.2,143.6 L421.0,145.0 L421.1,145.8 L421.2,147.0 L421.4,148.5 L421.4,149.3 L421.5,150.7 L421.7,151.7 L422.2,153.2 L422.6,154.4 L423.0,155.2 L423.3,156.7 L423.5,155.5 L423.4,154.6 L423.6,153.1 L423.5,152.2 L423.6,151.2 L423.7,149.5 L423.7,149.2 L423.8,148.2 L423.8,146.5 L424.1,145.8 L424.2,144.8 L424.2,143.3 L425.0,142.5 L425.8,140.8 L426.7,141.9 L427.5,143.3 L427.7,142.1 L428.0,140.8 L428.2,140.0 L428.7,138.6 L428.9,137.5 L429.2,135.8 L429.9,134.8 L430.8,133.3 L431.1,135.1 L431.5,136.2 L432.0,137.5 L432.4,136.0 L432.7,134.9 L432.9,133.4 L433.3,132.5 L434.3,131.5 L435.3,130.8 L436.2,130.3 L436.9,129.0 L437.5,128.3 L437.6,129.5 L437.9,130.6 L437.9,132.0 L438.3,133.3 L438.4,133.3 L438.5,135.4 L438.9,135.9 L439.0,136.8 L439.2,138.3 L439.3,139.6 L439.4,141.0 L439.7,141.5 L439.7,143.1 L440.1,144.0 L440.0,145.0 L440.2,146.5 L440.4,147.9 L440.7,148.5 L440.8,150.0 L441.0,151.6 L441.4,152.7 L441.4,153.6 L441.5,154.3 L441.7,155.6 L442.0,156.7 L442.1,157.9 L442.2,159.1 L442.4,160.2 L442.3,161.4 L442.6,162.9 L442.6,163.5 L442.7,164.9 L442.9,166.2 L443.0,166.7 L443.0,168.3 L443.2,167.7 L443.3,166.0 L443.3,164.8 L443.4,163.3 L443.5,162.5 L443.7,161.0 L443.9,159.9 L443.9,158.5 L444.0,157.8 L444.2,156.7 L444.3,155.9 L444.3,153.9 L444.4,153.4 L444.5,151.9 L444.8,150.4 L444.7,149.6 L444.9,148.2 L445.1,147.8 L445.0,146.8 L445.2,145.2 L445.3,144.1 L445.4,143.4 L445.7,141.7 L445.5,140.6 L445.9,139.6 L445.8,138.3 L446.0,137.2 L446.2,136.2 L446.6,135.0 L446.8,133.7 L447.1,131.7 L447.5,130.8 L447.9,129.7 L448.0,128.5 L448.6,127.8 L448.7,126.0 L449.2,125.0 L449.5,123.7 L449.5,123.2 L450.0,121.2 L450.2,120.2 L450.3,119.2 L450.5,120.8 L450.6,121.8 L450.6,122.9 L450.7,124.2 L451.0,124.4 L451.1,126.5 L451.1,127.3 L451.2,128.3 L451.4,129.4 L451.6,130.1 L451.7,131.7 L451.9,130.8 L452.2,128.9 L452.2,128.6 L452.3,127.4 L452.7,125.6 L452.8,124.1 L453.0,123.3 L453.0,123.9 L453.3,125.4 L453.2,126.9 L453.5,128.2 L453.4,128.8 L453.8,130.4 L453.7,131.0 L454.0,132.2 L453.8,133.1 L454.1,134.3 L454.2,135.8 L454.1,135.2 L454.4,133.8 L454.6,132.7 L454.5,131.3 L454.5,130.4 L454.7,129.3 L455.0,127.3 L454.9,126.4 L455.0,125.0 L455.1,123.8 L455.2,122.8 L455.3,121.7 L455.6,119.9 L456.1,119.5 L456.2,118.4 L456.7,116.7 L456.9,118.3 L457.0,118.8 L457.1,120.6 L457.2,121.3 L457.0,121.9 L457.3,123.1 L457.2,125.1 L457.5,125.3 L457.4,127.3 L457.6,127.5 L457.6,128.9 L457.9,129.8 L457.9,130.9 L458.0,132.5 L458.3,133.8 L458.3,134.5 L458.5,135.8 L458.7,136.9 L459.1,138.0 L459.2,139.2 L459.9,139.9 L460.8,141.7 L461.7,143.3 L462.5,144.2 L463.2,145.7 L464.2,146.7 L464.2,146.0 L464.4,144.5 L464.7,143.2 L464.9,141.9 L465.0,140.1 L465.0,139.2 L465.2,140.5 L465.5,141.4 L465.9,143.4 L466.3,144.2 L466.3,145.1 L466.6,146.7 L466.8,147.2 L466.9,148.7 L467.0,150.0 L467.2,150.7 L467.1,151.6 L467.4,153.5 L467.5,154.2 L468.0,153.6 L468.3,152.6 L468.8,150.6 L469.2,150.0 L470.3,149.2 L470.8,150.8" fill="none" stroke="#1f4e79" stroke-width="2.5" stroke-linejoin="round" stroke-linecap="round"/>
<path d="M591.3,246.7 L591.6,246.0 L591.5,243.8 L591.8,243.5 L591.8,242.2 L592.0,240.8 L593.3,242.5 L593.7,241.4 L593.9,240.1 L594.3,238.7 L594.7,237.5 L595.2,238.9 L595.5,240.2 L595.8,240.8 L596.2,239.4 L596.5,237.5 L597.0,236.7 L597.4,238.0 L598.0,239.3 L598.3,240.8 L599.2,239.6 L600.0,238.3 L601.1,237.6 L602.5,237.5 L602.6,236.1 L603.0,235.0 L603.0,233.9 L603.4,232.9 L603.6,231.5 L603.7,230.0 L604.1,229.0 L604.5,227.3 L604.6,226.8 L605.0,225.0 L605.4,223.9 L605.7,222.3 L606.1,221.0 L606.3,219.7 L607.5,220.0 L607.8,221.2 L608.1,222.2 L608.2,224.0 L608.6,224.8 L608.7,226.2 L608.9,226.8 L609.2,228.3 L609.9,227.7 L610.8,226.7 L611.6,227.9 L612.5,228.3 L613.0,227.5 L613.7,225.8 L614.2,227.4 L614.6,228.1 L615.0,229.2 L615.4,228.3 L615.7,226.9 L616.4,226.1 L616.7,225.0 L617.0,226.2 L617.6,227.6 L618.0,228.3 L618.1,227.7 L618.3,226.4 L618.5,225.2 L618.9,223.6 L619.0,222.3 L619.2,221.7 L619.2,220.9 L619.5,218.9 L619.6,218.0 L619.6,216.3 L619.9,215.3 L620.1,214.0 L620.1,212.7 L620.1,211.5 L620.3,210.8 L622.0,211.7 L622.0,210.8 L622.3,209.0 L622.3,208.0 L622.4,207.5 L622.6,205.3 L622.9,204.8 L622.9,203.1 L623.0,201.8 L623.3,201.5 L623.3,200.0 L623.7,199.1 L624.0,197.6 L624.2,195.8 L624.7,197.1 L625.3,198.3 L626.3,196.7 L626.3,198.0 L626.4,198.5 L626.4,200.5 L626.5,201.3 L626.4,202.4 L626.5,204.0 L626.6,204.8 L626.7,205.3 L626.6,206.5 L626.7,207.6 L626.9,208.8 L627.0,210.4 L627.1,212.0 L626.9,212.3 L627.0,213.5 L627.1,215.0 L627.0,216.3 L627.1,217.1 L627.2,218.3 L627.1,216.7 L627.2,216.0 L627.3,215.2 L627.4,213.4 L627.5,212.5 L627.6,211.7 L627.8,210.3 L627.9,209.1 L627.9,208.8 L627.9,207.2 L627.9,206.2 L628.1,204.9 L628.1,203.5 L628.2,203.1 L628.3,201.7 L628.7,202.9 L628.7,204.3 L628.9,206.0 L629.2,206.7 L629.4,207.3 L629.4,208.6 L629.6,210.7 L629.7,211.0 L629.8,212.6 L630.0,213.6 L630.0,214.6 L630.3,216.2 L630.3,217.5 L630.7,218.3 L630.9,219.7 L631.1,221.1 L631.3,222.5 L631.5,221.6 L631.7,219.8 L632.1,218.5 L632.4,218.0 L632.5,216.7 L633.8,217.5 L633.8,218.9 L634.2,220.0 L634.3,221.2 L634.4,221.9 L634.5,223.6 L634.7,224.4 L634.9,226.0 L635.0,226.7 L635.2,225.9 L635.2,224.0 L635.4,223.0 L635.6,221.8 L635.8,221.1 L635.8,219.8 L636.2,218.1 L636.2,216.6 L636.3,215.8 L637.0,216.2 L638.0,217.5 L638.7,216.7 L639.2,215.0 L639.2,214.0 L639.3,212.5 L639.5,211.8 L639.6,210.4 L639.7,208.9 L639.9,208.7 L639.9,206.6 L639.9,206.1 L640.1,205.2 L640.2,203.9 L640.3,202.5 L640.7,204.3 L640.9,205.1 L641.2,206.2 L641.7,207.5 L642.2,206.5 L642.6,204.9 L643.0,204.2 L643.4,203.1 L644.0,202.3 L644.2,201.3 L644.7,200.0 L645.0,199.5 L645.5,198.2 L646.0,197.2 L646.3,195.8 L646.6,194.4 L646.9,193.5 L647.2,193.0 L647.4,190.9 L647.8,190.5 L648.0,189.2 L649.2,187.5 L649.7,188.8 L650.1,189.2 L650.3,190.8 L651.2,191.9 L652.0,192.5 L652.7,191.8 L653.2,189.8 L653.7,189.2 L654.4,188.6 L655.3,187.5 L657.0,188.0 L657.7,189.3 L658.3,190.0 L660.0,190.8 L660.9,191.7 L661.7,193.3 L662.5,194.2 L663.3,195.8 L664.1,196.6 L665.0,197.5 L665.8,196.3 L666.7,195.0 L668.3,195.8 L668.7,196.6 L668.6,197.6 L669.1,199.1 L669.3,200.5 L669.5,201.4 L669.7,202.5 L671.3,201.7 L671.7,202.7 L672.0,204.2 L672.7,205.0 L673.0,206.7 L673.5,207.6 L673.8,209.5 L674.3,210.6 L674.7,211.7 L674.8,211.0 L675.0,209.1 L675.2,208.3 L675.5,206.7 L675.6,206.6 L675.8,205.0 L676.1,203.8 L676.5,202.4 L676.7,201.0 L677.0,200.0 L677.1,199.2 L677.5,197.5 L678.7,196.7 L679.4,197.9 L680.3,198.3 L681.1,199.6 L681.7,200.7 L682.5,201.7 L682.5,203.2 L682.8,204.1 L683.0,205.1 L683.1,206.6 L683.2,207.2 L683.3,208.5 L683.7,209.4 L683.7,210.8 L684.3,209.3 L684.7,208.5 L685.3,207.5 L685.5,208.6 L685.9,210.0 L686.3,211.2 L686.7,212.5 L687.1,211.7 L687.4,209.9 L687.6,209.2 L688.0,207.5 L688.8,208.3 L689.7,210.0 L690.7,208.8 L691.7,208.3 L692.6,206.9 L693.7,205.8 L694.4,207.4 L695.3,208.3 L696.1,209.5 L696.9,209.9 L697.5,210.8 L698.3,211.8 L698.9,213.5 L699.7,214.2 L700.8,213.5 L701.7,212.5 L702.7,214.0 L703.7,215.0 L704.6,214.2 L705.3,212.5 L706.3,211.9 L707.0,210.8 L707.6,211.6 L708.0,213.1 L708.5,213.8 L709.2,215.0 L710.0,214.7 L710.8,213.3 L711.8,212.5 L712.5,211.7 L713.5,210.5 L714.2,210.0 L714.6,210.7 L715.2,212.1 L715.8,213.3 L716.1,214.9 L716.0,215.8 L716.1,216.7 L716.2,218.1 L716.4,218.6 L716.4,219.6 L716.5,221.6 L716.6,221.8 L716.8,223.1 L716.9,224.2 L717.0,225.3 L717.1,226.8 L717.4,227.6 L717.3,228.4 L717.5,230.0 L717.6,229.3 L717.6,228.1 L717.9,226.7 L718.0,225.4 L718.0,224.6 L718.1,223.9 L718.3,222.2 L718.5,220.9 L718.5,220.1 L718.8,218.9 L718.8,218.3 L718.8,216.6 L718.8,215.6 L719.2,214.0 L719.2,213.3 L719.5,211.7 L719.8,211.1 L719.8,209.3 L720.0,208.9 L720.3,206.9 L720.5,205.8 L720.8,205.0 L722.5,204.2 L723.0,205.6 L723.7,206.7 L724.0,208.4 L724.3,208.5 L724.5,209.9 L724.6,211.4 L725.0,212.5 L725.7,213.8 L726.7,215.0 L727.1,215.8 L727.2,217.7 L727.6,218.7 L727.7,219.3 L728.0,220.8 L728.7,221.7 L729.7,223.3 L729.9,224.0 L730.1,225.1 L730.5,226.5 L730.9,228.2 L731.1,229.1 L731.3,230.0 L731.5,231.6 L732.0,231.8 L732.1,233.5 L732.4,234.3 L732.7,235.5 L733.0,236.7 L733.9,235.3 L734.7,234.2 L735.1,235.6 L735.4,236.2 L736.1,237.6 L736.3,238.3 L737.2,239.3 L738.0,240.8 L739.0,242.3 L740.0,243.3 L740.4,243.9 L740.7,245.1 L741.3,246.5 L741.7,247.5 L743.0,248.1 L744.2,248.3 L744.7,249.7 L745.4,250.1 L745.8,251.7 L747.2,251.2 L748.3,250.0 L749.0,251.4 L750.0,252.5 L752.0,253.3 L752.5,254.2 L753.3,255.8 L754.2,255.1 L755.0,254.2 L756.0,254.7 L756.8,256.4 L757.5,256.7 L758.5,257.5 L759.7,258.3 L760.4,256.9 L760.9,256.3 L761.7,255.0 L761.8,254.3 L761.9,252.7 L762.1,251.9 L762.1,250.7 L762.3,249.7 L762.5,248.3 L764.2,249.2 L764.5,248.5 L765.0,246.8 L765.3,245.8 L765.6,244.5 L765.8,244.0 L766.2,242.6 L766.4,241.5 L766.7,240.0 L767.5,240.8 L768.3,241.7 L768.5,242.8 L768.8,243.5 L769.0,244.7 L769.2,246.2 L769.5,246.9 L769.7,248.3 L769.8,249.9 L770.2,250.8 L770.4,252.3 L770.5,252.9 L770.8,254.7 L771.2,254.9 L771.3,256.7 L773.3,255.8 L774.1,256.3 L775.0,257.5 L775.6,258.4 L776.3,260.0 L777.0,260.8 L778.3,261.7 L779.1,260.5 L779.9,259.8 L780.8,258.3 L781.8,257.6 L783.0,256.7 L784.7,255.8 L785.3,254.3 L785.6,253.5 L786.3,252.5 L787.3,251.8 L788.0,250.8 L788.7,250.2 L789.5,249.2 L790.1,250.8 L790.4,251.3 L791.0,253.4 L791.3,254.2 L793.3,255.0 L795.3,254.2 L795.9,255.0 L796.5,256.8 L797.0,257.5 L797.2,258.8 L797.4,259.4 L797.7,260.4 L797.9,261.5 L798.1,262.9 L798.3,264.2 L798.6,263.5 L798.8,261.8 L799.1,260.4 L799.5,259.5 L799.7,258.3 L801.3,257.5 L802.5,258.3 L803.3,260.0 L804.0,261.3 L805.0,262.4 L805.8,263.3 L806.5,262.1 L807.5,260.8 L808.0,261.9 L808.6,263.2 L809.2,264.2 L809.7,265.0 L811.7,264.2 L812.0,262.8 L812.6,262.1 L813.1,260.6 L813.7,260.0 L814.3,258.9 L814.9,257.9 L815.3,256.7 L816.7,255.0 L817.1,255.6 L817.6,256.6 L817.8,258.1 L818.3,259.2 L818.8,257.7 L819.3,256.6 L819.5,255.3 L820.0,254.2 L820.9,253.8 L821.7,252.5 L822.0,250.8 L822.4,249.8 L822.6,248.9 L822.8,247.9 L822.9,246.8 L823.3,245.0 L823.7,243.6 L823.9,242.1 L824.1,242.0 L824.2,240.6 L824.6,239.1 L824.7,237.8 L825.0,236.7 L825.5,235.9 L826.1,233.9 L826.7,233.3 L827.6,233.0 L828.3,231.7 L828.6,230.7 L828.9,229.8 L829.4,227.9 L829.6,227.4 L830.0,225.8 L830.1,227.4 L830.2,228.3 L830.4,229.0 L830.6,230.0 L830.8,231.7 L830.9,233.0 L831.2,234.0 L831.5,235.1 L831.5,235.9 L831.7,237.5 L833.3,238.3 L833.5,237.1 L833.8,236.5 L834.0,234.8 L834.4,233.5 L834.6,232.7 L834.8,230.8 L835.0,230.0 L835.2,228.4 L835.5,227.1 L835.8,227.0 L835.9,225.3 L836.2,224.0 L836.4,222.8 L836.7,221.7 L837.2,220.0 L837.7,219.4 L838.0,217.5 L840.0,216.7 L840.0,217.9 L840.4,218.7 L840.5,220.5 L840.6,221.2 L840.8,221.9 L841.0,223.2 L841.1,224.4 L841.2,225.6 L841.3,226.7 L841.6,225.5 L841.6,224.7 L841.8,223.3 L841.9,222.5 L841.9,221.6 L842.1,220.1 L842.4,218.8 L842.3,218.3 L842.5,216.7 L842.6,215.6 L842.6,214.6 L842.6,213.5 L842.7,211.7 L842.7,211.0 L842.9,209.7 L842.8,208.9 L842.9,207.9 L843.0,206.1 L843.1,205.4 L843.1,204.1 L842.9,202.7 L843.0,201.6 L843.1,200.9 L843.3,199.4 L843.3,197.8 L843.2,196.8 L843.3,195.8 L844.1,197.2 L845.0,198.3 L845.8,197.5 L846.7,195.8 L847.5,194.1 L848.7,193.3 L848.7,191.6 L848.7,191.2 L848.9,189.6 L849.1,189.0 L849.1,187.8 L849.0,186.3 L849.2,185.0 L849.1,183.7 L849.3,182.0 L849.2,180.8 L850.3,181.3 L851.3,181.7 L851.6,180.5 L852.0,179.3 L852.4,177.9 L852.6,177.5 L853.0,175.8 L853.2,174.4 L853.2,173.9 L853.3,172.6 L853.5,171.8 L853.5,170.3 L853.8,169.1 L853.8,167.9 L854.1,166.6 L854.2,165.8 L855.1,167.1 L855.8,167.5 L856.1,166.4 L856.1,164.7 L856.2,164.1 L856.7,162.2 L856.7,161.1 L857.0,160.2 L857.2,158.5 L857.3,157.7 L857.5,156.7 L857.8,155.6 L858.2,155.1 L858.9,153.9 L859.2,152.5 L860.3,150.8 L860.9,151.9 L861.1,152.6 L861.7,154.2 L862.1,155.3 L862.8,156.7 L863.3,157.5 L863.4,156.6 L863.7,154.6 L863.6,153.6 L863.8,152.4 L863.8,151.6 L864.0,149.9 L864.0,149.5 L864.3,147.8 L864.4,147.0 L864.6,145.9 L864.7,144.1 L864.7,143.3 L865.0,141.6 L865.5,140.8 L865.7,141.5 L865.8,143.1 L866.0,144.8 L865.9,145.5 L866.1,147.0 L866.2,147.3 L866.1,148.3 L866.4,150.1 L866.5,151.5 L866.6,151.8 L866.7,153.3 L866.8,152.7 L866.8,151.0 L867.0,149.4 L866.9,149.3 L867.2,148.0 L867.3,146.3 L867.2,144.9 L867.4,144.2 L867.3,143.1 L867.5,142.3 L867.5,141.0 L867.5,139.4 L867.7,138.1 L867.9,137.2 L867.9,136.5 L868.0,135.0 L868.2,134.3 L868.1,132.6 L868.4,132.1 L868.5,130.0 L868.5,129.2 L868.6,128.5 L868.8,126.8 L868.7,126.4 L869.0,125.1 L869.1,123.3 L869.2,122.5 L869.4,123.8 L869.4,124.9 L869.6,126.1 L869.8,127.2 L869.9,128.0 L870.1,129.5 L870.3,130.8 L870.5,129.8 L870.5,128.3 L870.5,127.3 L870.8,125.9 L870.8,125.7 L870.7,123.7 L870.8,122.5 L870.8,121.7 L871.0,120.6 L871.0,119.9 L871.2,117.8 L871.1,117.1 L871.2,115.8 L871.3,115.0 L871.8,113.5 L872.5,112.5 L872.6,113.4 L872.7,115.2 L872.8,116.0 L873.0,117.6 L873.0,118.9 L873.1,119.9 L873.3,120.9 L873.3,122.0 L873.3,122.7 L873.7,124.8 L873.6,125.4 L873.8,126.7 L874.0,125.9 L874.1,124.4 L874.1,123.0 L874.4,122.6 L874.5,121.6 L874.7,120.5 L874.9,118.9 L874.7,117.4 L875.0,116.7 L875.3,118.1 L876.0,118.9 L876.3,120.0 L876.5,121.4 L876.7,122.6 L877.2,123.6 L877.2,124.7 L877.5,125.8 L878.4,125.1 L879.2,123.3 L879.7,122.5 L880.0,121.6 L880.3,120.0 L880.8,119.2 L881.2,117.5 L881.7,116.7 L881.6,117.6 L881.9,119.2 L881.9,120.7 L882.0,121.7 L882.2,122.4 L882.4,124.3 L882.4,124.9 L882.5,125.6 L882.7,127.8 L882.9,128.7 L882.8,129.2 L883.0,130.8 L883.8,132.0 L884.7,133.3 L885.8,135.0 L886.1,133.7 L886.2,132.3 L886.4,131.3 L886.6,130.0 L886.8,129.1 L886.9,128.5 L887.0,126.3 L887.2,126.2 L887.3,124.8 L887.5,123.3 L888.7,121.7 L889.2,120.8 L889.6,119.0 L890.0,117.5 L890.1,115.9 L890.6,114.8 L890.9,114.4 L890.9,113.3 L891.3,111.7 L892.2,110.8 L892.1,111.4 L892.3,112.6 L892.4,114.7 L892.4,114.9 L892.5,116.7 L892.4,117.6 L892.7,119.2 L892.6,120.2 L892.6,120.5 L892.6,121.9 L892.8,123.0 L892.7,124.7 L892.7,126.0 L892.9,127.2 L892.9,128.0 L893.1,129.2 L893.0,129.8 L893.0,131.6 L893.2,132.0 L893.1,133.2 L893.2,134.5 L893.3,135.8 L893.5,135.0 L893.6,133.6 L893.9,132.5 L893.8,131.6 L894.0,129.6 L894.3,128.6 L894.3,127.5 L894.6,126.7 L894.7,125.0 L895.5,126.4 L896.3,126.7 L896.6,125.6 L897.2,124.2 L897.6,122.6 L898.0,121.7 L898.8,120.4 L899.7,120.0 L900.2,121.4 L900.8,122.5 L901.2,121.1 L901.7,120.3 L902.0,119.3 L902.5,118.3 L902.7,116.9 L903.1,115.4 L903.3,114.5 L903.7,112.8 L903.8,111.6 L904.2,110.8 L905.3,109.2 L906.7,110.0 L907.6,108.5 L908.3,107.5 L910.0,106.7 L910.5,105.9 L911.0,103.9 L911.3,103.0 L912.0,103.5 L913.0,105.0 L914.0,103.6 L915.0,103.0 L915.9,104.1 L916.7,105.0 L916.9,106.7 L917.0,107.6 L917.4,109.0 L917.3,110.1 L917.6,111.2 L917.7,112.2 L918.0,113.3 L918.3,114.7 L918.3,115.8 L918.5,116.9 L918.6,118.0 L918.9,118.3 L919.2,120.0 L919.6,118.9 L919.8,117.5 L920.1,116.3 L920.3,115.0 L920.5,116.7 L920.4,117.1 L920.6,118.8 L920.9,119.8 L920.8,120.3 L921.2,121.7 L921.3,123.3 L921.3,123.8 L921.4,125.6 L921.5,126.5 L921.7,127.5 L922.2,126.8 L922.8,125.3 L923.3,124.2 L924.3,124.8 L925.0,125.8 L925.8,125.0 L926.7,124.2 L927.2,125.5 L927.7,126.6 L928.0,127.5 L928.2,126.7 L928.5,125.4 L928.7,123.6 L928.8,122.9 L929.0,121.3 L929.4,120.9 L929.5,120.0 L929.7,118.3 L930.6,117.5 L931.3,115.8 L933.3,115.0 L933.7,115.8 L934.1,117.7 L934.4,118.3 L934.6,119.5 L935.0,120.8 L935.3,122.3 L935.5,122.9 L935.6,124.1 L936.0,126.2 L936.2,126.8 L936.3,128.3 L936.6,126.9 L936.8,125.9 L937.2,124.9 L937.3,124.3 L937.6,122.5 L938.0,121.7 L938.8,120.5 L939.7,120.0 L940.0,121.5 L940.1,121.9 L940.2,123.4 L940.6,125.0 L940.6,125.1 L940.8,126.7 L941.7,125.5 L942.5,124.2 L944.2,125.0 L945.1,124.2 L945.8,122.9 L946.7,122.5 L947.1,121.6 L947.7,119.6 L948.2,118.4 L948.7,117.5 L950.0,119.2 L950.6,117.5 L951.3,116.7 L951.7,117.7 L951.9,119.3 L952.1,120.6 L952.5,122.2 L952.6,123.1 L953.0,124.2 L953.9,124.7 L954.7,125.8 L955.1,127.6 L955.6,127.8 L955.9,129.3 L956.3,130.8 L956.6,129.2 L957.2,128.6 L957.6,127.2 L958.0,125.8 L958.3,124.8 L958.7,123.3 L958.9,122.1 L959.3,121.5 L959.7,120.0 L960.1,119.0 L960.6,117.5 L960.8,116.1 L961.3,115.0 L962.0,114.1 L962.5,112.5 L963.0,113.8 L963.3,114.5 L963.9,115.8 L964.2,116.7 L966.3,116.7 L967.2,117.7 L968.0,119.2 L968.3,120.7 L968.7,120.7 L969.2,122.4 L969.7,123.3 L970.1,125.1 L970.8,125.8 L971.1,125.1 L971.4,124.0 L971.9,121.9 L972.3,120.9 L972.5,120.0 L972.7,119.2 L973.0,117.7 L973.1,116.8 L973.4,115.4 L973.7,114.2 L974.5,115.5 L975.3,116.7 L977.0,115.8 L978.7,116.7 L979.0,117.8 L979.5,119.1 L979.5,120.4 L980.0,121.7 L980.5,122.9 L980.8,124.6 L981.3,125.8 L981.6,127.0 L981.8,128.7 L982.3,130.0 L982.5,130.8 L983.1,129.2 L983.7,128.6 L984.2,127.5 L984.9,127.1 L985.8,125.8 L987.5,125.0 L987.6,126.5 L987.9,127.7 L988.3,128.0 L988.5,130.2 L988.7,130.8 L988.9,132.3 L989.3,132.9 L989.4,134.7 L989.7,135.4 L990.0,136.7 L991.3,138.3 L991.6,136.8 L991.6,135.3 L992.0,134.2 L992.2,133.4 L992.4,132.3 L992.5,130.8 L992.5,132.1 L992.8,132.8 L992.9,134.0 L993.3,135.3 L993.4,137.3 L993.5,137.9 L993.7,139.2 L994.1,137.4 L994.5,136.3 L994.9,135.8 L995.3,134.2 L995.8,135.4 L996.1,136.7 L996.7,137.0 L997.0,138.3 L997.4,136.9 L998.0,135.8 L998.3,134.2 L998.8,133.6 L999.4,131.7 L1000.0,130.8 L1000.6,131.9 L1001.3,133.3 L1001.8,132.5 L1002.0,130.3 L1002.7,129.2 L1003.0,128.3 L1003.9,129.4 L1004.7,130.8 L1005.1,129.4 L1005.6,129.1 L1006.3,127.5 L1007.2,128.3 L1008.0,129.2 L1008.5,127.7 L1008.8,127.1 L1009.2,125.2 L1009.7,124.2 L1010.8,122.5 L1011.1,123.6 L1011.2,125.1 L1011.5,126.5 L1011.7,126.6 L1012.0,128.3 L1012.1,127.2 L1012.4,126.4 L1012.5,124.8 L1012.7,123.2 L1013.0,122.5 L1013.0,121.4 L1013.3,120.0 L1014.1,119.1 L1014.7,117.5 L1015.0,119.0 L1015.4,120.4 L1015.5,121.3 L1015.8,122.5 L1016.2,121.4 L1016.5,120.5 L1016.7,119.0 L1017.0,117.8 L1017.2,116.4 L1017.5,115.8 L1018.5,115.3 L1019.2,114.2 L1020.8,115.0 L1021.8,115.8 L1022.5,116.7 L1024.2,117.5 L1024.9,118.4 L1025.8,120.0 L1027.5,120.8 L1029.2,120.0 L1030.0,120.9 L1030.8,121.7 L1031.4,122.7 L1032.1,124.2 L1032.5,125.0 L1033.4,125.6 L1034.2,126.7 L1035.1,128.1 L1035.8,129.2 L1036.7,130.1 L1037.5,130.8 L1039.2,130.0 L1039.9,131.2 L1040.8,131.7 L1041.6,133.2 L1042.5,134.2 L1043.3,135.0" fill="none" stroke="#1f3864" stroke-width="2.5" stroke-linejoin="round" stroke-linecap="round"/>
<path d="M176.6,65.1H216.5" stroke="#1f4e79" stroke-width="2.4" stroke-linecap="round" fill="none"/>
<path d="M785.5,61.9H825.6" stroke="#1f3864" stroke-width="2.4" stroke-linecap="round" fill="none"/>
</svg>
<div class="t title" style="left:6.5px;top:7.7px"><span class="c">图表</span>28<span class="c">：</span> 2025 <span class="c">年</span> 5 <span class="c">月以来人民币对美元汇率表现较强</span></div>
<div class="t title" style="left:554.5px;top:7.7px"><span class="c">图表</span>29<span class="c">：</span> 2025 <span class="c">年</span> 5 <span class="c">月下旬以来锁汇成本趋于下降</span></div>
<div class="t lg" style="left:221px;top:58px"><span class="c">即期汇率</span>:<span class="c">美元兑人民币</span></div>
<div class="t lg" style="left:831px;top:55.2px"><span class="c">锁汇成本</span></div>
<div class="t unit" style="left:569px;top:51px"><span style="position:absolute;left:0;top:0">（</span><span style="position:absolute;left:16.3px;top:-0.5px;font-size:15px">%</span><span style="position:absolute;left:30px;top:0">）</span></div>
<div class="t src" style="left:6.2px;top:390px"><span class="c">资料来源：</span>Wind<span class="c">，华泰研究</span></div>
<div class="t src" style="left:554.2px;top:390px"><span class="c">资料来源：</span>Wind<span class="c">，华泰研究</span></div>
</body></html>
